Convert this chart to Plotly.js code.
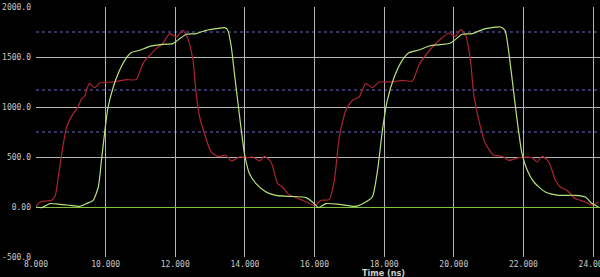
<!DOCTYPE html>
<html><head><meta charset="utf-8">
<script src="https://cdn.plot.ly/plotly-3.0.1.min.js"></script>
<style>html,body{margin:0;padding:0;background:#000;}#c{width:600px;height:277px;}</style>
</head><body><div id="c"></div>
<script>
const redX = [8.0, 8.15, 8.3, 8.45, 8.55, 8.64, 8.74, 8.88, 9.07, 9.21, 9.31, 9.4, 9.53, 9.69, 9.83, 10.21, 10.6, 10.88, 11.07, 11.26, 11.46, 11.65, 11.84, 12.03, 12.22, 12.36, 12.51, 12.6, 12.7, 12.84, 13.03, 13.22, 13.46, 13.61, 13.84, 14.08, 14.23, 14.42, 14.56, 14.75, 14.94, 15.08, 15.23, 15.42, 15.66, 16.0, 16.19, 16.42, 16.57, 16.71, 16.9, 17.09, 17.28, 17.47, 17.66, 17.86, 18.24, 18.52, 18.81, 19.0, 19.29, 19.58, 19.86, 20.05, 20.2, 20.34, 20.48, 20.57, 20.72, 20.91, 21.15, 21.39, 21.58, 21.87, 22.25, 22.39, 22.54, 22.73, 22.92, 23.06, 23.25, 23.49, 23.78, 23.97, 24.16];
const redY = [10, 55, 60, 67, 110, 300, 534, 800, 934, 1000, 1084, 1110, 1234, 1194, 1240, 1250, 1274, 1274, 1434, 1517, 1584, 1640, 1734, 1700, 1767, 1684, 1467, 1134, 900, 734, 550, 507, 517, 460, 500, 494, 500, 460, 507, 450, 234, 200, 134, 100, 67, 17, 67, 74, 267, 700, 967, 1067, 1100, 1234, 1194, 1250, 1250, 1267, 1260, 1420, 1560, 1667, 1740, 1707, 1774, 1717, 1467, 1134, 867, 634, 517, 507, 467, 494, 494, 450, 507, 450, 267, 200, 167, 84, 50, 17, 50];
const greenX = [8.0, 8.16, 8.4, 8.69, 8.97, 9.26, 9.45, 9.64, 9.79, 9.88, 9.98, 10.07, 10.22, 10.36, 10.55, 10.74, 10.98, 11.27, 11.65, 11.93, 12.13, 12.32, 12.6, 12.89, 13.18, 13.42, 13.51, 13.61, 13.7, 13.85, 13.99, 14.13, 14.32, 14.61, 14.89, 15.28, 15.76, 15.94, 16.12, 16.33, 16.71, 17.19, 17.47, 17.66, 17.81, 17.95, 18.09, 18.29, 18.52, 18.72, 19.0, 19.3, 19.91, 20.24, 20.53, 20.91, 21.34, 21.47, 21.56, 21.68, 21.82, 21.96, 22.11, 22.3, 22.63, 23.01, 23.49, 23.78, 23.97, 24.16];
const greenY = [0, -6, 34, 27, 17, 7, 34, 67, 200, 467, 767, 1000, 1200, 1334, 1467, 1544, 1567, 1607, 1627, 1634, 1684, 1727, 1734, 1767, 1784, 1794, 1767, 1600, 1334, 900, 530, 334, 234, 150, 117, 107, 94, 50, -6, 34, 27, 7, 50, 100, 367, 767, 1067, 1300, 1467, 1544, 1570, 1610, 1640, 1727, 1734, 1784, 1800, 1767, 1600, 1267, 867, 534, 367, 250, 150, 117, 117, 100, 34, 0];
const thresholds = [1750, 1170, 750];
const xTickVals = [8, 10, 12, 14, 16, 18, 20, 22, 24];
const xTickText = ["8.000", "10.000", "12.000", "14.000", "16.000", "18.000", "20.000", "22.000", "24.000"];
const yTickVals = [-500, 0, 500, 1000, 1500, 2000];
const yTickText = ["-500.0", "0.00", "500.0", "1000.0", "1500.0", "2000.0"];
const xTitle = "Time (ns)";

const traces = [
  {x: redX, y: redY, type: 'scatter', mode: 'lines', line: {color: '#ad2430', width: 1.2, shape: 'spline', smoothing: 0.6}, hoverinfo: 'skip'},
  {x: greenX, y: greenY, type: 'scatter', mode: 'lines', line: {color: '#b8e27a', width: 1.2, shape: 'spline', smoothing: 0.6}, hoverinfo: 'skip'}
];
const shapes = thresholds.map(v => ({type: 'line', xref: 'paper', x0: 0, x1: 1, yref: 'y', y0: v, y1: v, line: {color: '#6a6ac8', width: 1, dash: 'dot'}, layer: 'below'}));
const tickFont = {family: 'DejaVu Sans Mono, monospace', size: 8, color: '#c8c8c8'};
const layout = {
  width: 600, height: 277,
  margin: {l: 36, r: 0, t: 7, b: 20, pad: 0},
  paper_bgcolor: '#000', plot_bgcolor: '#000',
  showlegend: false,
  shapes: shapes,
  xaxis: {range: [8, 24.2], tickvals: xTickVals, ticktext: xTickText, showgrid: true, gridcolor: '#b4b4b4', gridwidth: 1,
    zeroline: false, showline: false, ticks: '', tickfont: tickFont, automargin: false, ticklabelstandoff: 1, ticklabeloverflow: 'allow', fixedrange: true},
  yaxis: {range: [-500, 2000], tickvals: yTickVals, ticktext: yTickText, showgrid: true, gridcolor: '#b4b4b4', gridwidth: 1,
    zeroline: true, zerolinecolor: '#7cc040', zerolinewidth: 1, showline: false, ticks: '', tickfont: tickFont, automargin: false, ticklabelstandoff: 4, ticklabeloverflow: 'allow', fixedrange: true},
  annotations: [{text: '<b>' + xTitle + '</b>', xref: 'paper', yref: 'paper', x: 0.617, y: 0, yshift: -9, xanchor: 'center', yanchor: 'top', showarrow: false,
    font: {family: 'Liberation Sans Narrow, DejaVu Sans Condensed, Liberation Sans, sans-serif', size: 9, color: '#d0d0d0'}}]
};
Plotly.newPlot('c', traces, layout, {staticPlot: true, displayModeBar: false});
</script></body></html>
